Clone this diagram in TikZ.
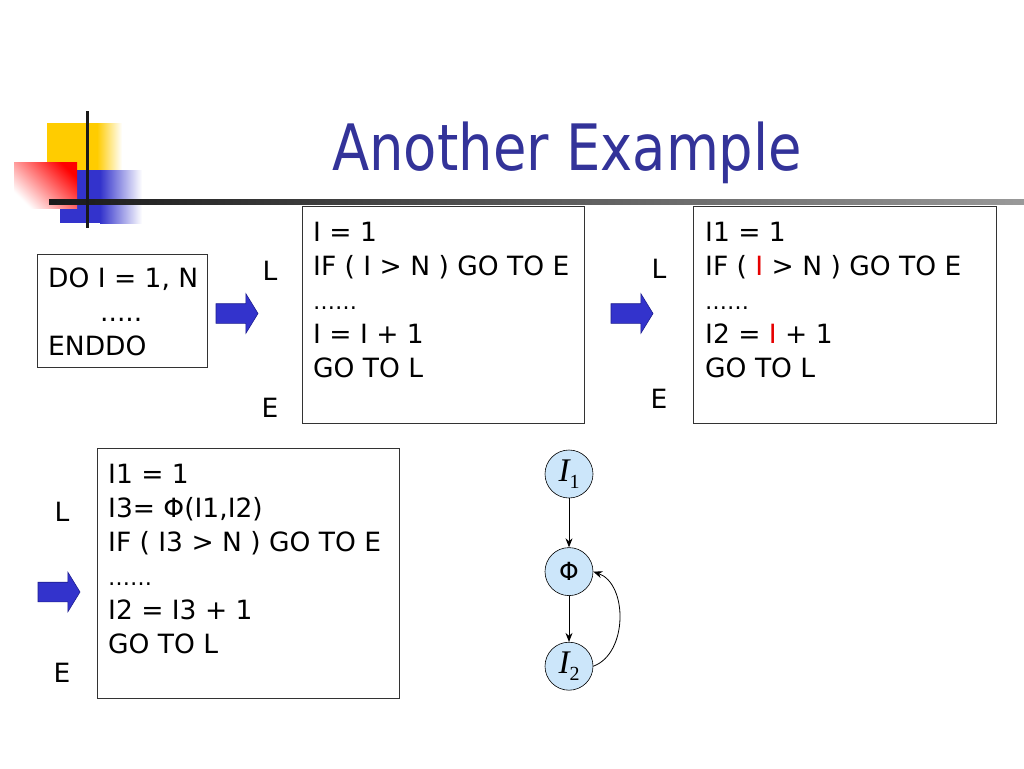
\documentclass[tikz,border=0pt]{standalone}
\usepackage{fontspec}
\setmainfont{DejaVu Sans}
\newfontfamily\titlefont[FakeStretch=0.85]{DejaVu Sans}
\newfontfamily\timesfont{Liberation Serif}
\usetikzlibrary{arrows.meta, positioning, shapes.arrows}

\definecolor{titleblue}{HTML}{333399}
\definecolor{arrowblue}{HTML}{3333CC}
\definecolor{arrowline}{HTML}{1F1F8F}
\definecolor{nodeblue}{HTML}{CCE6FA}
\definecolor{logoyellow}{HTML}{FFCC00}
\definecolor{varred}{HTML}{E60000}

\newcommand{\varI}[1]{{\timesfont\itshape I}\raisebox{-7pt}{\timesfont\fontsize{20}{20}\selectfont #1}}
\newcommand{\redI}{\textcolor{varred}{I}}

\tikzset{
    codebox/.style={draw=black!80, line width=0.8pt, inner sep=0pt, anchor=north west},
    codetext/.style={anchor=north west, align=left, inner sep=0pt, font=\fontsize{26.5}{34}\selectfont},
    marker/.style={anchor=base, inner sep=0pt, font=\fontsize{26.5}{34}\selectfont},
    bigarrow/.style={single arrow, draw=arrowline, fill=arrowblue, line width=0.6pt, inner sep=9.5pt,
        minimum height=42pt, single arrow head extend=10pt, single arrow tip angle=117},
    ssanode/.style={circle, draw=black, fill=nodeblue, line width=0.6pt, minimum size=48pt, inner sep=0pt,
        font=\fontsize{33}{33}\selectfont},
    flow/.style={-{Stealth[length=9pt, width=7pt]}, line width=0.8pt}
}

\begin{document}
\begin{tikzpicture}[x=1pt, y=-1pt]
    \fill[white] (0,0) rectangle (1024,768);
    \useasboundingbox (0,0) rectangle (1024,768);

    \fill[logoyellow] (47,123) rectangle (97,172);
    \shade[left color=logoyellow, right color=white] (97,123) rectangle (122,172);
    \fill[arrowblue] (60,170) rectangle (100,223);
    \shade[left color=arrowblue, right color=white] (100,170) rectangle (142,223);
    \shade[left color=white, right color=red, shading angle=135] (14,162) rectangle (77,208);
    \shade[left color=black!90, right color=black!40] (49,199) rectangle (1024,204);
    \draw[line width=3pt, black!90] (87,111) -- (87,228);

    \node[anchor=base west, inner sep=0pt, text=titleblue, font=\titlefont\fontsize{64}{64}\selectfont] (title) at (332,170) {Another Example};

    \node[codebox, minimum width=170pt, minimum height=113pt] (box1) at (37,254) {};
    \node[codetext] (code1) at ([xshift=11pt, yshift=-14pt]box1.north west) {DO I = 1, N\\\hspace*{52pt}.....\\ENDDO};

    \node[bigarrow] (arrow1) at (234,313.5) {};

    \node[codebox, minimum width=282pt, minimum height=217pt] (box2) at (302,206) {};
    \node[codetext] (code2) at ([xshift=11pt, yshift=-16pt]box2.north west) {I = 1\\IF ( I > N ) GO TO E\\{\fontsize{22}{34}\selectfont ……}\\I = I + 1\\GO TO L};
    \node[marker] (l2) at (270,280) {L};
    \node[marker] (e2) at (270,417) {E};

    \node[bigarrow] (arrow2) at (629,313.5) {};

    \node[codebox, minimum width=303pt, minimum height=217pt] (box3) at (693,206) {};
    \node[codetext] (code3) at ([xshift=12pt, yshift=-16pt]box3.north west) {I1 = 1\\IF ( \redI{} > N ) GO TO E\\{\fontsize{22}{34}\selectfont ……}\\I2 = \redI{} + 1\\GO TO L};
    \node[marker] (l3) at (659,278) {L};
    \node[marker] (e3) at (659,408) {E};

    \node[bigarrow] (arrow3) at (56,592) {};

    \node[codebox, minimum width=302pt, minimum height=250pt] (box4) at (97,448) {};
    \node[codetext] (code4) at ([xshift=11pt, yshift=-16pt]box4.north west) {I1 = 1\\I3= Φ(I1,I2)\\IF ( I3 > N ) GO TO E\\{\fontsize{22}{34}\selectfont ……}\\I2 = I3 + 1\\GO TO L};
    \node[marker] (l4) at (62,521) {L};
    \node[marker] (e4) at (62,682) {E};

    \node[ssanode] (i1) at (569,474) {\varI{1}};
    \node[ssanode, below=49pt of i1, font=\fontsize{25}{25}\selectfont] (phi) {Φ};
    \node[ssanode, below=46pt of phi] (i2) {\varI{2}};
    \draw[flow] (i1) -- (phi);
    \draw[flow] (phi) -- (i2);
    \draw[flow] (i2.east) to[bend right=70] (phi.east);
\end{tikzpicture}
\end{document}
